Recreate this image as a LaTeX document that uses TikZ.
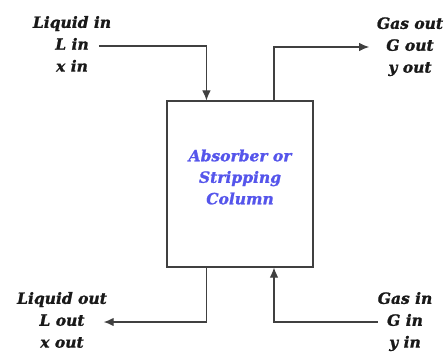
\documentclass[tikz,border=0pt]{standalone}
\usepackage{fontspec}
\setmainfont{DejaVu Serif}[BoldItalicFeatures={FakeBold=1.2}]
\usetikzlibrary{positioning,arrows.meta}
\definecolor{coltxt}{RGB}{85,85,235}
\tikzset{
  lbl/.style={font=\fontsize{15.5}{17}\selectfont\bfseries\itshape, text=black!90,
    inner sep=0pt, text height=11pt, text depth=3.5pt},
  flow/.style={draw=black!75, line width=1.1pt, >={Latex[length=10pt,width=8.5pt]}},
  column/.style={draw=black!75, line width=1.1pt, minimum width=146pt, minimum height=166pt, inner sep=0pt},
  coltext/.style={font=\fontsize{15.5}{21.5}\selectfont\bfseries\itshape, text=coltxt, align=center}
}
\begin{document}
\begin{tikzpicture}[x=1pt,y=1pt,node distance=7pt]
\useasboundingbox (0,0) rectangle (446,351);

% the column
\node[column] (col) at (240,167) {};
\node[coltext] (coltitle) at ([yshift=7pt]col.center) {Absorber or\\Stripping\\Column};
\coordinate (topL) at ([xshift=40pt]col.north west);
\coordinate (topR) at ([xshift=34pt]col.north);
\coordinate (botL) at ([xshift=40pt]col.south west);
\coordinate (botR) at ([xshift=34pt]col.south);

% stream labels
\node[lbl] (Lin) at (72,305) {L in};
\node[lbl,above=of Lin] (Lintitle) {Liquid in};
\node[lbl,below=of Lin] (xin) {x in};

\node[lbl] (Gout) at (410,304) {G out};
\node[lbl,above=of Gout] (Gouttitle) {Gas out};
\node[lbl,below=of Gout] (yout) {y out};

\node[lbl] (Lout) at (62,29) {L out};
\node[lbl,above=of Lout] (Louttitle) {Liquid out};
\node[lbl,below=of Lout] (xout) {x out};

\node[lbl] (Gin) at (405,29) {G in};
\node[lbl,above=of Gin] (Gintitle) {Gas in};
\node[lbl,below=of Gin] (yin) {y in};

% streams
\draw[flow,->,shorten <=10pt] (Lin) -| (topL);
\draw[flow,->,shorten >=17pt] (topR) |- (Gout);
\draw[flow,->,shorten >=19pt] (botL) |- (Lout);
\draw[flow,->,shorten <=9pt] (Gin) -| (botR);
\end{tikzpicture}
\end{document}
